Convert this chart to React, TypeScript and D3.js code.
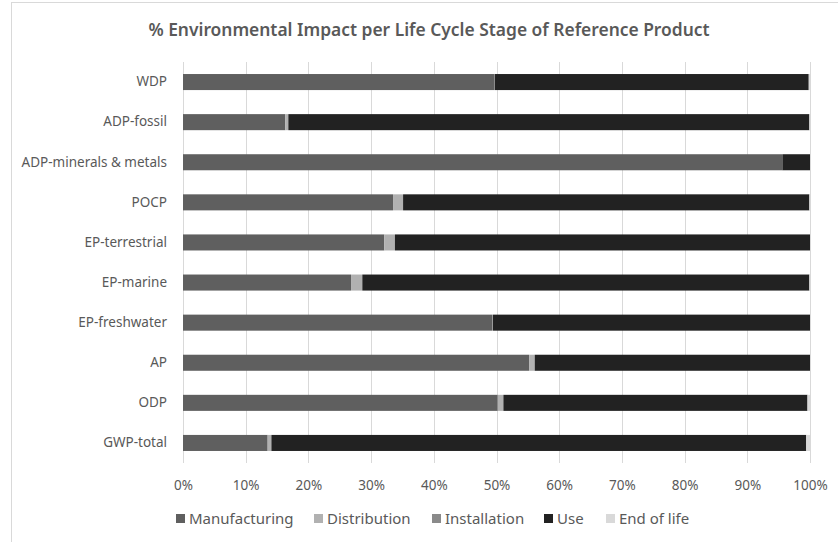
import React, { useRef, useEffect } from "react";
import * as d3 from "d3";

// categories, top to bottom
const categories = [
  "WDP",
  "ADP-fossil",
  "ADP-minerals & metals",
  "POCP",
  "EP-terrestrial",
  "EP-marine",
  "EP-freshwater",
  "AP",
  "ODP",
  "GWP-total",
];

const stages = ["Manufacturing", "Distribution", "Installation", "Use", "End of life"];
const stageColors = ["#5f5f5f", "#b1b1b1", "#8a8a8a", "#222222", "#d9d9d9"];

// % per stage, same order as categories
const manufacturing = [49.6, 16.3, 95.6, 33.5, 32.1, 26.8, 49.3, 55.2, 50.2, 13.5];
const distribution = [0.1, 0.5, 0, 1.6, 1.7, 1.8, 0.1, 0.9, 0.9, 0.6];
const installation = [0, 0, 0, 0, 0, 0, 0, 0, 0, 0];
const use = [50.1, 83.1, 4.4, 64.8, 66.2, 71.3, 50.6, 43.9, 48.5, 85.3];
const endOfLife = [0.2, 0.1, 0, 0.1, 0, 0.1, 0, 0, 0.4, 0.6];

const xTicks = [0, 10, 20, 30, 40, 50, 60, 70, 80, 90, 100];

const FONT = "'Noto Sans', sans-serif";

const App = () => {
  const ref = useRef<HTMLDivElement>(null);

  useEffect(() => {
    const width = 838;
    const height = 542;
    const marginLeft = 183;
    const marginRight = 28;
    const plotTop = 62;
    const plotBottom = 463;

    const rows = categories.map((c, i) => ({
      category: c,
      Manufacturing: manufacturing[i],
      Distribution: distribution[i],
      Installation: installation[i],
      Use: use[i],
      "End of life": endOfLife[i],
    }));

    const series = d3.stack<any>().keys(stages)(rows);

    const x = d3.scaleLinear().domain([0, 100]).range([marginLeft, width - marginRight]);
    const y = d3
      .scaleBand()
      .domain(categories)
      .range([plotTop, plotBottom])
      .paddingInner(0.6)
      .paddingOuter(0.3);
    const color = d3.scaleOrdinal<string>().domain(stages).range(stageColors);

    d3.select(ref.current).selectAll("*").remove();

    const svg = d3
      .select(ref.current)
      .append("svg")
      .attr("width", width)
      .attr("height", height)
      .style("position", "absolute")
      .style("left", "0px")
      .style("top", "0px")
      .style("font-family", FONT);

    svg.append("rect").attr("width", width).attr("height", height).attr("fill", "#fff");

    // chart border
    svg
      .append("rect")
      .attr("x", 11.5)
      .attr("y", 2.5)
      .attr("width", width)
      .attr("height", height)
      .attr("fill", "none")
      .attr("stroke", "#d9d9d9");

    // title
    svg
      .append("text")
      .attr("x", 429)
      .attr("y", 36)
      .attr("text-anchor", "middle")
      .attr("fill", "#595959")
      .attr("font-size", "17.4px")
      .attr("font-weight", 600)
      .text("% Environmental Impact per Life Cycle Stage of Reference Product");

    // gridlines
    svg
      .append("g")
      .selectAll("line")
      .data(xTicks)
      .join("line")
      .attr("x1", (d) => Math.round(x(d)) + 0.5)
      .attr("x2", (d) => Math.round(x(d)) + 0.5)
      .attr("y1", plotTop)
      .attr("y2", plotBottom)
      .attr("stroke", "#d9d9d9")
      .attr("stroke-width", 1);

    // bars
    svg
      .append("g")
      .selectAll("g")
      .data(series)
      .join("g")
      .attr("fill", (d) => color(d.key))
      .selectAll("rect")
      .data((d) => d)
      .join("rect")
      .attr("x", (d) => x(d[0]))
      .attr("y", (d) => y(d.data.category)!)
      .attr("width", (d) => Math.max(0, x(d[1]) - x(d[0])))
      .attr("height", y.bandwidth());

    // x axis labels
    svg
      .append("g")
      .attr("transform", `translate(0,${plotBottom})`)
      .call(d3.axisBottom(x).tickValues(xTicks).tickFormat((d) => `${d}%`).tickSize(0).tickPadding(17))
      .call((g) => g.select(".domain").remove())
      .call((g) =>
        g.selectAll("text").attr("fill", "#595959").attr("font-size", "13.5px").attr("font-family", FONT)
      );

    // y axis labels
    svg
      .append("g")
      .attr("transform", `translate(${marginLeft},0)`)
      .call(d3.axisLeft(y).tickSize(0).tickPadding(16))
      .call((g) => g.select(".domain").remove())
      .call((g) =>
        g.selectAll("text").attr("fill", "#595959").attr("font-size", "13.5px").attr("font-family", FONT)
      );

    // legend
    const legendX = [176, 314, 432, 544, 606];
    const legend = svg
      .append("g")
      .selectAll("g")
      .data(stages)
      .join("g")
      .attr("transform", (d, i) => `translate(${legendX[i]},519)`);
    legend
      .append("rect")
      .attr("x", 0)
      .attr("y", -5)
      .attr("width", 9)
      .attr("height", 9)
      .attr("fill", (d) => color(d));
    legend
      .append("text")
      .attr("x", 13)
      .attr("y", 0)
      .attr("dy", "0.35em")
      .attr("fill", "#595959")
      .attr("font-size", "15px")
      .text((d) => d);
  }, []);

  return <div ref={ref}></div>;
};

export default App;
